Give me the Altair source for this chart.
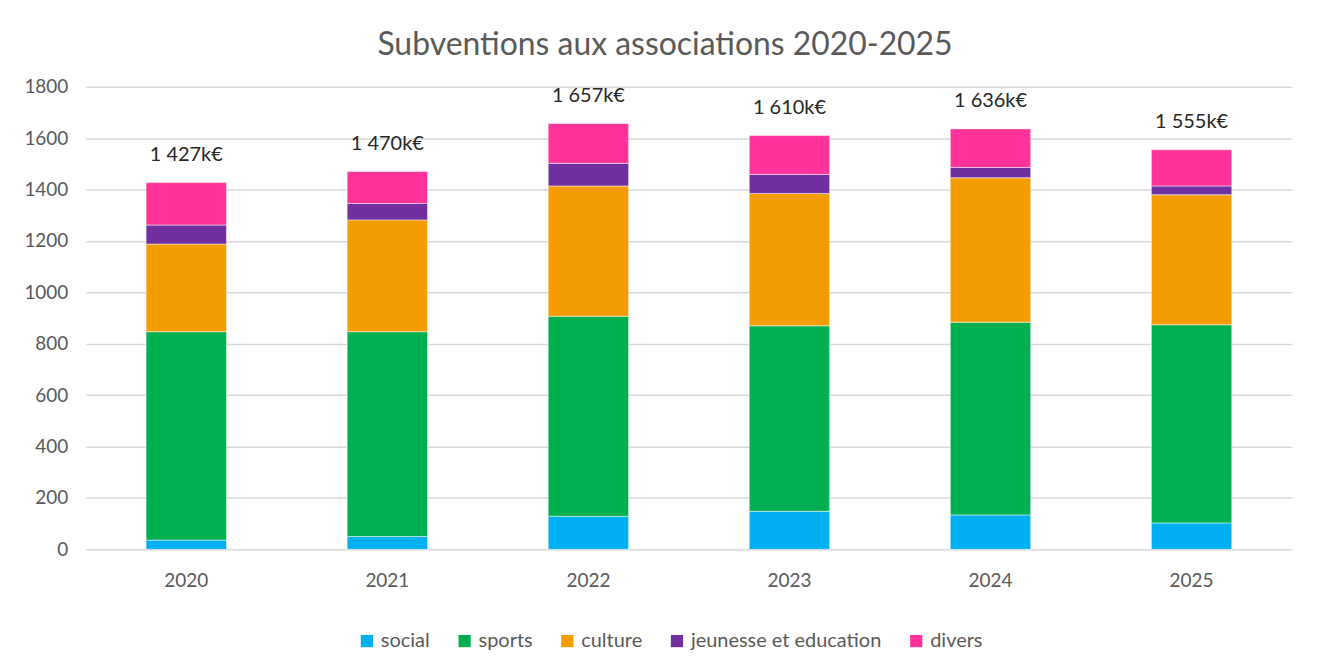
import altair as alt
import pandas as pd

years = ["2020", "2021", "2022", "2023", "2024", "2025"]
categories = ["social", "sports", "culture", "jeunesse et education", "divers"]
colors = ["#00B0F0", "#00B050", "#F59D00", "#7030A0", "#FF3399"]

social = [36, 50, 129, 148, 134, 103]
sports = [811, 797, 778, 722, 750, 771]
culture = [341, 435, 507, 515, 562, 506]
jeunesse = [74, 64, 88, 74, 40, 34]
divers = [165, 124, 155, 151, 150, 141]
totals = [1427, 1470, 1657, 1610, 1636, 1555]

series = [social, sports, culture, jeunesse, divers]
rows = []
for ci, (cat, vals) in enumerate(zip(categories, series)):
    for y, v in zip(years, vals):
        rows.append({"year": y, "cat": cat, "value": v, "idx": ci})
df = pd.DataFrame(rows)

tot_df = pd.DataFrame({
    "year": years,
    "total": totals,
    "label": [f"{t:,}".replace(",", " ") + "k€" for t in totals],
})

FONT = "Lato"
x = alt.X("year:N", title=None, sort=years,
          scale=alt.Scale(paddingInner=0.6, paddingOuter=0.3),
          axis=alt.Axis(labelAngle=0, labelFontSize=19, labelColor="#595959",
                        labelPadding=22, ticks=False, domain=False, grid=False,
                        labelFont=FONT))

bars = alt.Chart(df).mark_bar(stroke="white", strokeWidth=0.5).encode(
    x=x,
    y=alt.Y("value:Q", stack="zero", title=None,
            scale=alt.Scale(domain=[0, 1800], nice=False),
            axis=alt.Axis(values=list(range(0, 1801, 200)), format="d",
                          labelFontSize=19, labelFont=FONT,
                          labelColor="#595959", labelPadding=18, ticks=False,
                          domain=False, gridColor="#D9D9D9", gridWidth=1.5)),
    color=alt.Color("cat:N", sort=categories,
                    scale=alt.Scale(domain=categories, range=colors),
                    legend=alt.Legend(title=None, orient="none", direction="horizontal",
                                      legendX=272, legendY=546,
                                      symbolType="square", symbolSize=150,
                                      symbolStrokeWidth=0, labelFontSize=20,
                                      labelColor="#595959", columnPadding=24,
                                      labelLimit=400, labelFont=FONT)),
    order=alt.Order("idx:Q", sort="ascending"),
)

labels = alt.Chart(tot_df).mark_text(dy=-28, fontSize=20, color="#262626", font=FONT).encode(
    x=alt.X("year:N", sort=years),
    y=alt.Y("total:Q"),
    text="label:N",
)

chart = (bars + labels).properties(
    width=1210, height=464,
    background="white",
    title=alt.TitleParams("Subventions aux associations 2020-2025", fontSize=32,
                          color="#595959", font=FONT, fontWeight="normal",
                          anchor="middle", offset=16, dx=-24),
    padding={"left": 15, "top": 20, "right": 30, "bottom": 10},
).configure_view(strokeWidth=0, stroke=None).configure_axis(domain=False)

chart.save("out.html", embed_options={"renderer": "svg", "actions": False})
